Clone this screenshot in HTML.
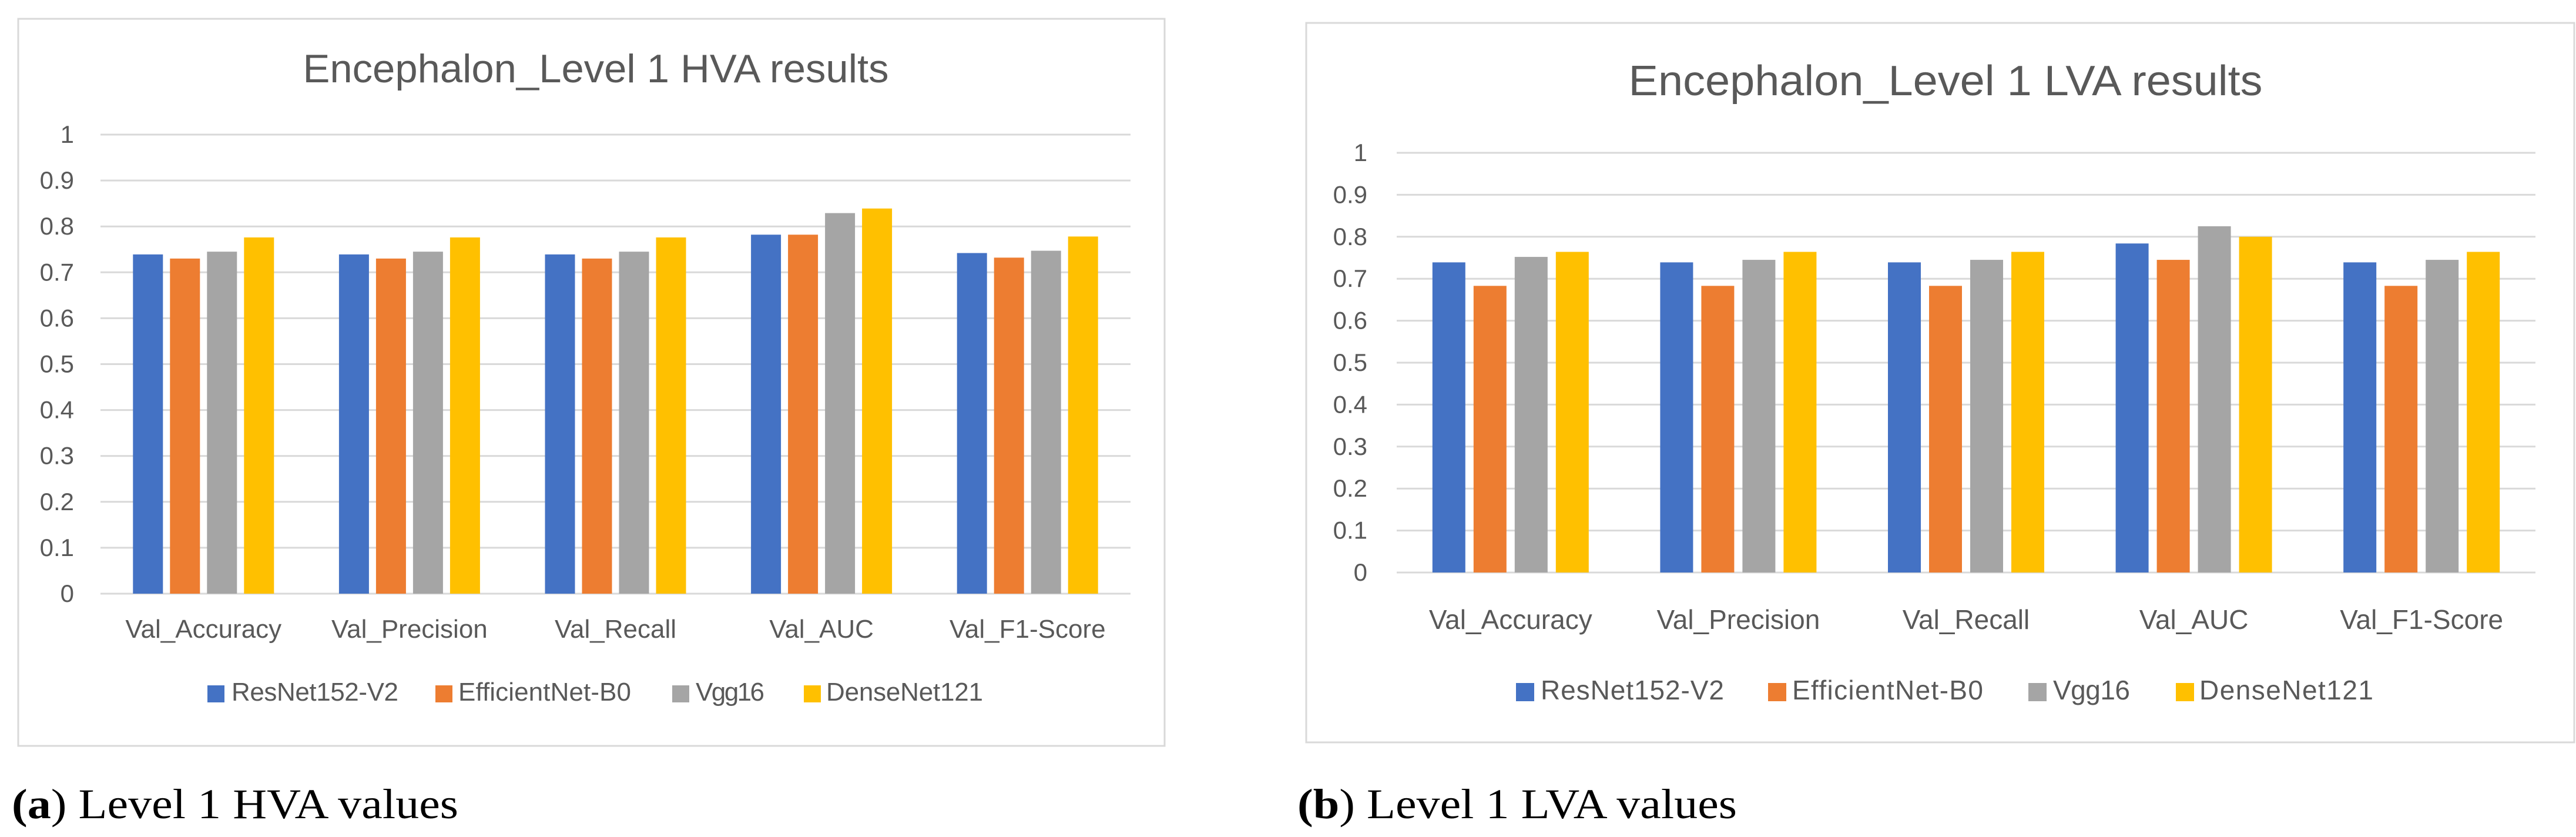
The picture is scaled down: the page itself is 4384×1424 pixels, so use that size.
<!DOCTYPE html>
<html><head><meta charset="utf-8"><style>
html,body{margin:0;padding:0;background:#fff;}
svg{display:block;}
text{font-family:"Liberation Sans",sans-serif;}
text.serif{font-family:"Liberation Serif",serif;}
</style></head><body>
<svg id="fig" width="4384" height="1424" viewBox="0 0 4384 1424" xmlns="http://www.w3.org/2000/svg">
<rect x="31" y="32" width="1951" height="1237" fill="#fff" stroke="#d9d9d9" stroke-width="3"/>
<rect x="2223" y="39" width="2158" height="1224" fill="#fff" stroke="#d9d9d9" stroke-width="3"/>
<text x="1014" y="140" font-size="68" fill="#595959" text-anchor="middle" textLength="997" lengthAdjust="spacingAndGlyphs">Encephalon_Level 1 HVA results</text>
<text x="3311" y="162" font-size="72" fill="#595959" text-anchor="middle" textLength="1079" lengthAdjust="spacingAndGlyphs">Encephalon_Level 1 LVA results</text>
<text class="serif" x="20" y="1392" font-size="72" fill="#000" textLength="760" lengthAdjust="spacingAndGlyphs" style="font-family:'Liberation Serif',serif"><tspan font-weight="bold">(a</tspan>) Level 1 HVA values</text>
<text class="serif" x="2208" y="1392" font-size="72" fill="#000" textLength="748" lengthAdjust="spacingAndGlyphs" style="font-family:'Liberation Serif',serif"><tspan font-weight="bold">(b</tspan>) Level 1 LVA values</text>
<g id="ga"></g><g id="gb"></g>
</svg>
<script>
const categories = ["Val_Accuracy","Val_Precision","Val_Recall","Val_AUC","Val_F1-Score"];
const seriesNames = ["ResNet152-V2","EfficientNet-B0","Vgg16","DenseNet121"];
const seriesColors = ["#4472c4","#ed7d31","#a5a5a5","#ffc000"];
const tickLabels = ["0","0.1","0.2","0.3","0.4","0.5","0.6","0.7","0.8","0.9","1"];
const tickValues = [0,0.1,0.2,0.3,0.4,0.5,0.6,0.7,0.8,0.9,1];
const hvaResNet = [0.739,0.739,0.739,0.782,0.742];
const hvaEff = [0.730,0.730,0.730,0.782,0.732];
const hvaVgg = [0.745,0.745,0.745,0.829,0.747];
const hvaDense = [0.776,0.776,0.776,0.839,0.778];
const lvaResNet = [0.739,0.739,0.739,0.784,0.739];
const lvaEff = [0.683,0.683,0.683,0.745,0.683];
const lvaVgg = [0.752,0.745,0.745,0.825,0.745];
const lvaDense = [0.764,0.764,0.764,0.800,0.764];

const NS="http://www.w3.org/2000/svg";
function mk(tag,attrs,parent,txt){const e=document.createElementNS(NS,tag);for(const k in attrs)e.setAttribute(k,attrs[k]);if(txt!==undefined)e.textContent=txt;parent.appendChild(e);return e;}

function drawChart(g,cfg,series,prefix){
  const yScale=v=>cfg.y0-(cfg.y0-cfg.y1)*v;
  const gw=(cfg.x1-cfg.x0)/categories.length;
  const xCenter=i=>cfg.x0+gw*(i+0.5);
  tickValues.forEach((v,i)=>{
    const l=mk('line',{x1:cfg.x0,x2:cfg.x1,y1:yScale(v),y2:yScale(v),stroke:'#d9d9d9','stroke-width':3},g);
    
    
    const t=mk('text',{x:cfg.tickX,y:yScale(v)+14,'font-size':cfg.tickFs,fill:'#595959','text-anchor':'end'},g,tickLabels[i]);
    
    
  });
  categories.forEach((c,i)=>{
    series.forEach((s,j)=>{
      const cx=xCenter(i)+(j-1.5)*cfg.step;
      const r=mk('rect',{x:cx-cfg.bw/2,y:yScale(s[i]),width:cfg.bw,height:yScale(0)-yScale(s[i]),fill:seriesColors[j]},g);
      
      
    });
    const t=mk('text',{x:xCenter(i),y:cfg.catY,'font-size':cfg.catFs,fill:'#595959','text-anchor':'middle'},g,c);
    
    
  });
  seriesNames.forEach((n,j)=>{
    const sq=mk('rect',{x:cfg.legSq[j],y:cfg.legY-cfg.sq+3,width:cfg.sq,height:cfg.sq,fill:seriesColors[j]},g);
    
    
    const t=mk('text',{x:cfg.legTx[j],y:cfg.legY,'font-size':cfg.legFs,fill:'#595959',textLength:cfg.legW[j]},g,n);
    
    
  });
}
drawChart(document.getElementById('ga'),{x0:171,x1:1924,y0:1010,y1:229,bw:51,step:63,tickX:126,tickFs:42,catY:1085,catFs:44,legY:1192,legFs:44,sq:29,
  legSq:[353,741,1144,1368],legTx:[394,780,1184,1406],legW:[284,294,117,267]},[hvaResNet,hvaEff,hvaVgg,hvaDense],'chart-a');
drawChart(document.getElementById('gb'),{x0:2377,x1:4315,y0:974,y1:260,bw:56,step:70,tickX:2327,tickFs:42,catY:1070,catFs:46,legY:1190,legFs:46,sq:31,
  legSq:[2580,3009,3452,3703],legTx:[2622,3050,3494,3743],legW:[312,325,131,296]},[lvaResNet,lvaEff,lvaVgg,lvaDense],'chart-b');
</script>
</body></html>
